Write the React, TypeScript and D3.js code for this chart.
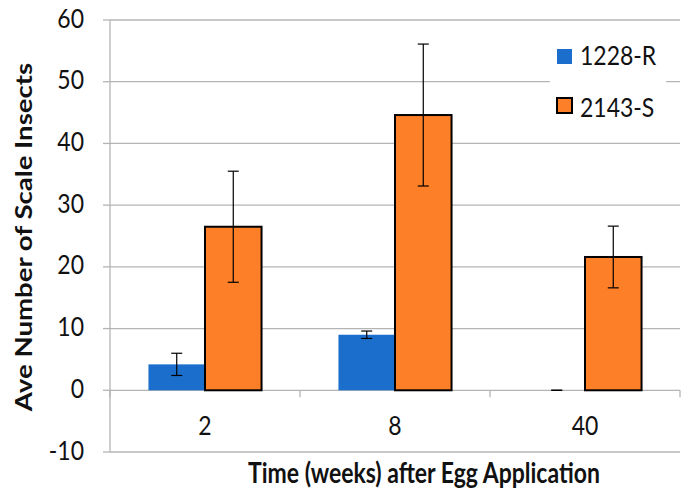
import React from "react";
import * as d3 from "d3";

// Weeks after egg application
const categories = ["2", "8", "40"];
const seriesNames = ["1228-R", "2143-S"];
// Mean number of scale insects per plant
const meansR = [4.2, 9.0, 0];
const meansS = [26.5, 44.6, 21.6];
// Error bar half-widths
const errR = [1.8, 0.6, 0];
const errS = [9.0, 11.5, 5.0];
const yTicks = [-10, 0, 10, 20, 30, 40, 50, 60];

const W = 682;
const H = 490;
const FONT = "Lato, 'Open Sans', sans-serif";
const BLUE = "#1b6ecb";
const ORANGE = "#fd7f27";
const GRID = "#b4b4b4";
// glyphs are drawn slightly taller than wide
const STRETCH = 1.2;

function Label(props: {
  x: number;
  y: number;
  anchor?: string;
  size: number;
  bold?: boolean;
  rotate?: number;
  dy?: string;
  children: React.ReactNode;
}) {
  const { x, y, anchor = "start", size, bold, rotate = 0, dy, children } = props;
  return (
    <text
      transform={`translate(${x},${y}) scale(1,${STRETCH}) rotate(${rotate})`}
      textAnchor={anchor}
      fontSize={size}
      fontWeight={bold ? "bold" : "normal"}
      dy={dy}
      fill="#111"
    >
      {children}
    </text>
  );
}

export default function App() {
  const y = d3.scaleLinear().domain([-10, 60]).range([452, 20]);
  const x = d3.scaleBand<string>().domain(categories).range([110, 680]).padding(0);
  const inner = d3
    .scaleBand<string>()
    .domain(seriesNames)
    .range([0, x.bandwidth()])
    .paddingInner(0)
    .paddingOuter(0.68);

  const series = [
    { name: seriesNames[0], values: meansR, errs: errR, fill: BLUE, stroke: "none" },
    { name: seriesNames[1], values: meansS, errs: errS, fill: ORANGE, stroke: "#000" },
  ];

  const boundaries = [110, ...categories.map((c) => (x(c) as number) + x.bandwidth())];

  return (
    <svg
      width={W}
      height={H}
      style={{ position: "absolute", left: 0, top: 0, background: "#fff" }}
      fontFamily={FONT}
    >
      {/* horizontal gridlines */}
      {yTicks.map((t) => (
        <line key={"g" + t} x1={110} x2={680} y1={y(t)} y2={y(t)} stroke={GRID} strokeWidth={1.3} />
      ))}
      {/* y axis */}
      <line x1={110} x2={110} y1={y(60)} y2={y(-10)} stroke={GRID} strokeWidth={1.3} />
      {yTicks.map((t) => (
        <g key={"yt" + t}>
          <line x1={103} x2={110} y1={y(t)} y2={y(t)} stroke={GRID} strokeWidth={1.3} />
          <Label x={84} y={y(t) + 7.5} anchor="end" size={23}>
            {t}
          </Label>
        </g>
      ))}
      {/* category ticks on zero line */}
      {boundaries.map((b, i) => (
        <line key={"xt" + i} x1={b} x2={b} y1={y(0)} y2={y(0) + 7} stroke={GRID} strokeWidth={1.3} />
      ))}
      {categories.map((c) => (
        <Label key={"xl" + c} x={(x(c) as number) + x.bandwidth() / 2} y={435} anchor="middle" size={23}>
          {c}
        </Label>
      ))}

      {/* bars */}
      {series.map((s) =>
        categories.map((c, i) => {
          const bx = (x(c) as number) + (inner(s.name) as number);
          const v = s.values[i];
          const top = y(Math.max(v, 0));
          const h = Math.abs(y(v) - y(0));
          return (
            <rect
              key={s.name + c}
              x={bx}
              y={top}
              width={inner.bandwidth()}
              height={h}
              fill={s.fill}
              stroke={s.stroke}
              strokeWidth={s.stroke === "none" ? 0 : 2}
            />
          );
        })
      )}
      {/* error bars */}
      {series.map((s) =>
        categories.map((c, i) => {
          const cx = (x(c) as number) + (inner(s.name) as number) + inner.bandwidth() / 2;
          const hi = y(s.values[i] + s.errs[i]);
          const lo = y(s.values[i] - s.errs[i]);
          return (
            <g key={"e" + s.name + c} stroke="#000" strokeWidth={1.2}>
              <line x1={cx} x2={cx} y1={hi} y2={lo} />
              <line x1={cx - 5.5} x2={cx + 5.5} y1={hi} y2={hi} />
              <line x1={cx - 5.5} x2={cx + 5.5} y1={lo} y2={lo} />
            </g>
          );
        })
      )}

      {/* legend */}
      <rect x={550} y={36} width={116} height={92} fill="#fff" />
      {series.map((s, i) => (
        <g key={"lg" + s.name}>
          <rect
            x={557}
            y={49 + i * 49}
            width={15}
            height={15}
            fill={s.fill}
            stroke={s.stroke}
            strokeWidth={s.stroke === "none" ? 0 : 2}
          />
          <Label x={580} y={65 + i * 52} size={23}>
            {s.name}
          </Label>
        </g>
      ))}

      {/* axis titles */}
      <Label x={32} y={237} anchor="middle" size={23} bold rotate={-90}>
        Ave Number of Scale Insects
      </Label>
      <Label x={424} y={483} anchor="middle" size={23} bold>
        Time (weeks) after Egg Application
      </Label>
    </svg>
  );
}
